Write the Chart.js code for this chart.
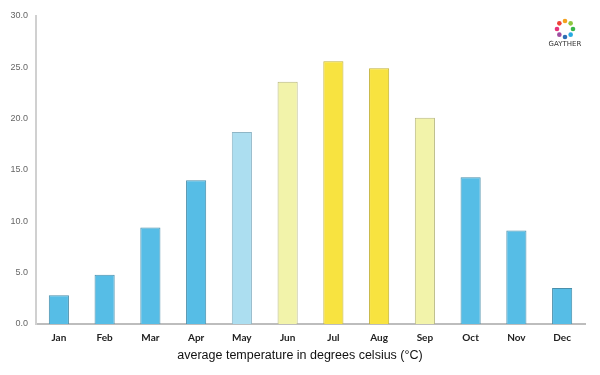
<!DOCTYPE html>
<html>
<head>
<meta charset="utf-8">
<script src="https://cdn.jsdelivr.net/npm/chart.js@4"></script>
<style>
  html, body { margin: 0; padding: 0; background: #fff; }
  #wrap { width: 600px; height: 375px; }
</style>
</head>
<body>
<div id="wrap"><canvas id="myChart" width="600" height="375"></canvas></div>
<script>
const months = ['Jan', 'Feb', 'Mar', 'Apr', 'May', 'Jun', 'Jul', 'Aug', 'Sep', 'Oct', 'Nov', 'Dec'];
const avgTemp = [2.8, 4.8, 9.4, 14.0, 18.7, 23.6, 25.6, 24.9, 20.1, 14.3, 9.1, 3.5];
const barColors = ['#56bde6', '#56bde6', '#56bde6', '#56bde6', '#acdef0', '#f2f3aa', '#f8e340', '#f8e340', '#f2f3aa', '#56bde6', '#56bde6', '#56bde6'];
const borderColors = ['#4a8fab', '#4a8fab', '#4a8fab', '#4a8fab', '#8fb6c6', '#b8b880', '#c2b236', '#c2b236', '#b8b880', '#4a8fab', '#4a8fab', '#4a8fab'];
const yTicks = [0, 5, 10, 15, 20, 25, 30];
const axisTitle = 'average temperature in degrees celsius (°C)';

// logo top right + axis caption centred on the page
const extras = {
	id: 'extras',
	afterDraw(chart) {
		const c = chart.ctx;
		const cx = 565, cy = 29, r = 8;
		const cols = ['#f4a11d', '#8dc63f', '#39b54a', '#27aae1', '#2e6db4', '#9e4fa0', '#e6337a', '#ef4136'];
		c.save();
		cols.forEach((col, i) => {
			const a = -Math.PI / 2 + i * Math.PI / 4;
			c.fillStyle = col;
			c.beginPath();
			c.arc(cx + Math.cos(a) * r, cy + Math.sin(a) * r, 2.3, 0, Math.PI * 2);
			c.fill();
		});
		c.fillStyle = '#333';
		c.font = '7px "DejaVu Sans", sans-serif';
		c.textAlign = 'center';
		c.textBaseline = 'middle';
		c.fillText('GAYTHER', cx, cy + 15);

		c.fillStyle = '#111';
		c.font = '12.5px "Liberation Sans", Arial, sans-serif';
		c.fillText(axisTitle, 300, 356);
		c.restore();
	},
};

document.addEventListener('DOMContentLoaded', () => {
	const ctx = document.getElementById('myChart');

	new Chart(ctx, {
		type: 'bar',
		data: {
			labels: months,
			datasets: [
				{
					label: 'avg temp',
					data: avgTemp,
					backgroundColor: barColors,
					borderColor: borderColors,
					borderWidth: 1,
					barPercentage: 0.44,
					categoryPercentage: 1,
				},
			],
		},
		options: {
			responsive: false,
			animation: false,
			layout: { padding: { top: 16, right: 15, left: 0, bottom: 0 } },
			plugins: {
				legend: { display: false },
				tooltip: { enabled: false },
			},
			scales: {
				x: {
					grid: { display: false, drawTicks: false },
					border: { color: '#bdbdbd', width: 2 },
					ticks: {
						color: '#222',
						padding: 8,
						font: { family: 'Lato, sans-serif', size: 10, weight: 'bold' },
					},
					afterFit(scale) { scale.height = 51; },
				},
				y: {
					min: 0,
					max: 30,
					afterBuildTicks(scale) { scale.ticks = yTicks.map(v => ({ value: v })); },
					grid: { display: false, drawTicks: false },
					border: { color: '#d0d0d0', width: 2 },
					ticks: {
						color: '#666',
						padding: 8,
						font: { family: 'Liberation Sans, Arial, sans-serif', size: 9 },
						callback: v => v.toFixed(1),
					},
					afterFit(scale) { scale.width = 36; },
				},
			},
		},
		plugins: [extras],
	});
});
</script>
</body>
</html>
